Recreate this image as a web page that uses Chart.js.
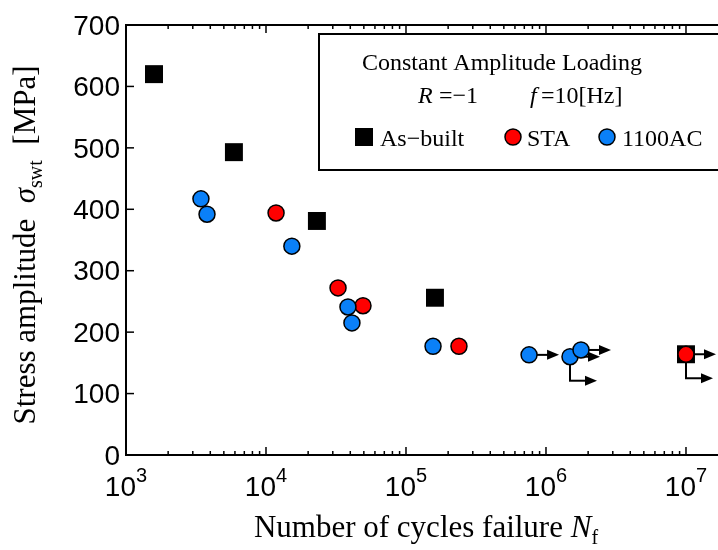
<!DOCTYPE html>
<html>
<head>
<meta charset="utf-8">
<script src="https://cdn.jsdelivr.net/npm/chart.js@4.4.0/dist/chart.umd.min.js"></script>
<style>html,body{margin:0;padding:0;background:#fff}</style>
</head>
<body>
<canvas id="Chart" width="718" height="550"></canvas>
<script>
// cycles to failure / stress amplitude
const asBuiltN = [1585, 5900, 23100, 161000, 1e7];
const asBuiltS = [620, 493, 381, 256, 164];
const staN = [11800, 32700, 49300, 239000, 1e7];
const staS = [394, 272, 243, 177, 164];
const acN = [3430, 3790, 15300, 38500, 41100, 156000, 757000, 1484000, 1778000];
const acS = [417, 392, 340, 241, 215, 177, 163, 160, 171];

// run-outs (arrows), bent = a second specimen stacked below
const runoutN = [757000, 1484000, 1778000, 1e7];
const runoutS = [163, 160, 171, 164];
const runoutBent = [false, true, false, true];

const xDecades = [3, 4, 5, 6, 7];

const SANS = '"Liberation Sans", Arial, sans-serif';
const SERIF = '"Liberation Serif", "Times New Roman", serif';
const BLUE = '#0a80f8';

function pts(xs, ys) {
  return xs.map((v, i) => ({x: v, y: ys[i]}));
}

function line(ctx, x0, y0, x1, y1) {
  ctx.beginPath(); ctx.moveTo(x0, y0); ctx.lineTo(x1, y1); ctx.stroke();
}

function arrow(ctx, x0, y0, x1, y1) {
  line(ctx, x0, y0, x1 - 10, y1);
  ctx.beginPath();
  ctx.moveTo(x1, y1);
  ctx.lineTo(x1 - 12, y1 - 5);
  ctx.lineTo(x1 - 12, y1 + 5);
  ctx.closePath();
  ctx.fill();
}

// segs: [text, font, dy]
function rich(ctx, segs, x, y) {
  let w = 0;
  segs.forEach(s => { ctx.font = s[1]; w += ctx.measureText(s[0]).width; });
  let cx = x - w / 2;
  ctx.textAlign = 'left';
  ctx.textBaseline = 'alphabetic';
  segs.forEach(s => {
    ctx.font = s[1];
    ctx.fillText(s[0], cx, y + (s[2] || 0));
    cx += ctx.measureText(s[0]).width;
  });
}

function marker(ctx, kind, cx, cy, color) {
  ctx.fillStyle = color;
  if (kind === 'rect') {
    ctx.fillRect(cx - 9, cy - 9, 18, 18);
  } else {
    ctx.beginPath(); ctx.arc(cx, cy, 8, 0, Math.PI * 2); ctx.fill();
    ctx.lineWidth = 1.5; ctx.strokeStyle = '#000'; ctx.stroke();
  }
}

const frame = {
  id: 'frame',
  beforeDatasetsDraw(chart) {
    const {ctx, scales: {x, y}} = chart;
    ctx.save();
    ctx.strokeStyle = '#000'; ctx.fillStyle = '#000'; ctx.lineWidth = 2;
    runoutN.forEach((n, i) => {
      const px = x.getPixelForValue(n), py = y.getPixelForValue(runoutS[i]);
      arrow(ctx, px, py, px + 30, py);
      if (runoutBent[i]) {
        line(ctx, px, py, px, py + 24);
        arrow(ctx, px - 1, py + 24, px + 27, py + 24);
      }
    });
    ctx.restore();
  },
  afterDraw(chart) {
    const {ctx, chartArea: a, scales: {x, y}} = chart;
    ctx.save();
    ctx.strokeStyle = '#000'; ctx.fillStyle = '#000';

    // ticks, inward, mirrored on top
    ctx.lineWidth = 1.5;
    x.ticks.forEach(t => {
      const e = Math.floor(Math.log10(t.value) + 1e-9);
      const m = t.value / Math.pow(10, e);
      if (Math.abs(m - Math.round(m)) > 1e-6) return;
      const len = Math.round(m) === 1 ? 8 : 4;
      const px = x.getPixelForValue(t.value);
      line(ctx, px, a.bottom, px, a.bottom - len);
      line(ctx, px, a.top, px, a.top + len);
    });
    y.ticks.forEach(t => {
      const py = y.getPixelForValue(t.value);
      line(ctx, a.left, py, a.left + 8, py);
    });

    // spines (right one is off the canvas)
    ctx.lineWidth = 2;
    ctx.beginPath();
    ctx.moveTo(a.right + 2, a.top);
    ctx.lineTo(a.left, a.top);
    ctx.lineTo(a.left, a.bottom);
    ctx.lineTo(a.right + 2, a.bottom);
    ctx.stroke();

    // x tick labels 10^n
    xDecades.forEach(e => {
      const px = x.getPixelForValue(Math.pow(10, e));
      ctx.font = '28px ' + SANS;
      const wb = ctx.measureText('10').width;
      ctx.font = '20px ' + SANS;
      const ws = ctx.measureText(String(e)).width;
      const x0 = px - (wb + ws) / 2;
      ctx.textAlign = 'left'; ctx.textBaseline = 'alphabetic';
      ctx.font = '28px ' + SANS;
      ctx.fillText('10', x0, a.bottom + 41);
      ctx.font = '20px ' + SANS;
      ctx.fillText(String(e), x0 + wb, a.bottom + 27);
    });

    // axis titles
    rich(ctx, [
      ['Number of cycles failure ', '31px ' + SERIF],
      ['N', 'italic 31px ' + SERIF],
      ['f', '20px ' + SERIF, 7]
    ], (a.left + a.right) / 2 + 4, 537);

    ctx.save();
    ctx.translate(35, (a.top + a.bottom) / 2 + 5);
    ctx.rotate(-Math.PI / 2);
    rich(ctx, [
      ['Stress amplitude  ', '31px ' + SERIF],
      ['\u03c3', 'italic 31px ' + SERIF],
      ['swt', '20px ' + SERIF, 7],
      ['  [MPa]', '31px ' + SERIF]
    ], 0, 0);
    ctx.restore();

    // legend box
    const bx = 319, by = 34;
    ctx.fillStyle = '#fff';
    ctx.fillRect(bx, by, 420, 136);
    ctx.lineWidth = 2;
    ctx.strokeRect(bx, by, 420, 136);
    ctx.fillStyle = '#000';
    rich(ctx, [['Constant Amplitude Loading', '24px ' + SERIF]], bx + 183, by + 36);
    ctx.textAlign = 'left';
    ctx.font = 'italic 24px ' + SERIF; ctx.fillText('R', bx + 99, by + 69);
    ctx.font = '24px ' + SERIF; ctx.fillText(' =\u22121', bx + 114, by + 69);
    ctx.font = 'italic 24px ' + SERIF; ctx.fillText('f', bx + 211, by + 69);
    ctx.font = '24px ' + SERIF; ctx.fillText(' =10[Hz]', bx + 216, by + 69);

    const ds = chart.data.datasets;
    const items = [[45, 61], [194, 208], [288, 303]];
    items.forEach((it, i) => {
      marker(ctx, ds[i].pointStyle, bx + it[0], by + 103, ds[i].backgroundColor);
      ctx.fillStyle = '#000';
      ctx.font = '24px ' + SERIF;
      ctx.fillText(ds[i].label, bx + it[1], by + 112);
    });
    ctx.restore();
  }
};

const chart = new Chart('Chart', {
  type: 'scatter',
  data: {
    datasets: [{
      label: 'As\u2212built',
      data: pts(asBuiltN, asBuiltS),
      pointStyle: 'rect',
      pointRadius: 12.7,
      backgroundColor: '#000',
      borderColor: '#000',
      borderWidth: 0,
      order: 3
    }, {
      label: 'STA',
      data: pts(staN, staS),
      pointStyle: 'circle',
      pointRadius: 8,
      backgroundColor: '#ff0000',
      borderColor: '#000',
      borderWidth: 1.5,
      order: 2
    }, {
      label: '1100AC',
      data: pts(acN, acS),
      pointStyle: 'circle',
      pointRadius: 8,
      backgroundColor: BLUE,
      borderColor: '#000',
      borderWidth: 1.5,
      order: 1
    }]
  },
  options: {
    responsive: false,
    animation: false,
    events: [],
    layout: {autoPadding: false, padding: {top: 25, left: 0, right: 0, bottom: 0}},
    plugins: {legend: false, tooltip: {enabled: false}},
    scales: {
      x: {
        type: 'logarithmic',
        min: 1000,
        max: 1.693e7,
        grid: {display: false, drawTicks: false},
        border: {display: false},
        ticks: {display: false},
        afterFit: s => { s.height = 95; }
      },
      y: {
        min: 0,
        max: 700,
        grid: {display: false, drawTicks: false},
        border: {display: false},
        ticks: {stepSize: 100, padding: 6, labelOffset: 2, color: '#000', font: {family: SANS, size: 28}},
        afterFit: s => { s.width = 126; }
      }
    }
  },
  plugins: [frame]
});
</script>
</body>
</html>
